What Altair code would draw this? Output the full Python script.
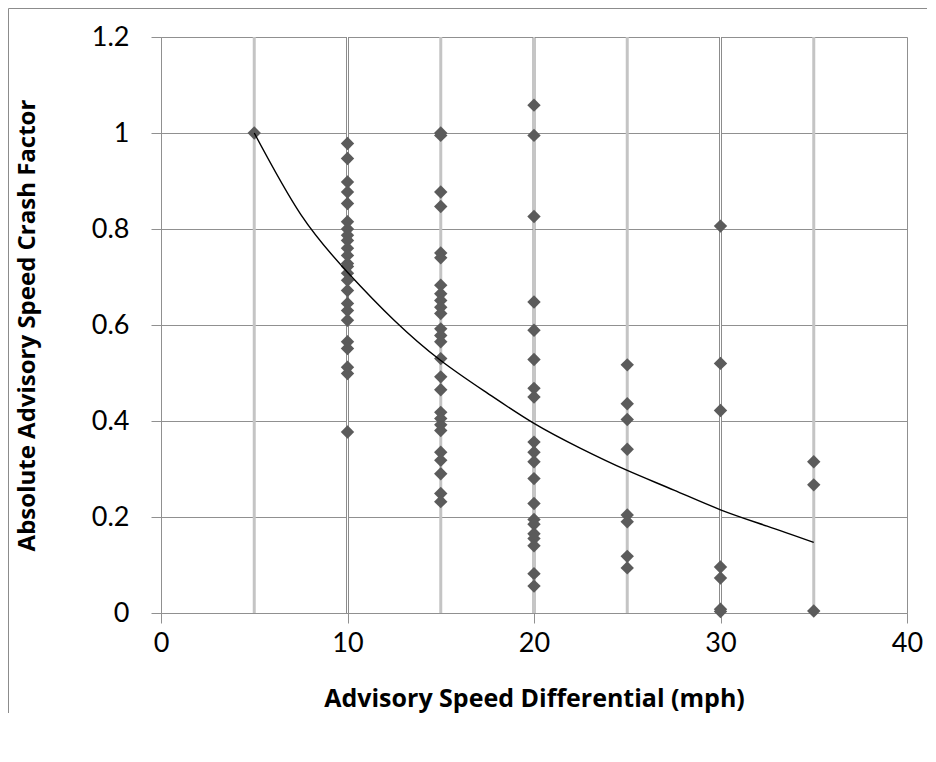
import altair as alt
import pandas as pd

# ---- data ----
x5 = [1.0]
x10 = [0.978, 0.947, 0.898, 0.877, 0.853, 0.815, 0.80, 0.787, 0.776, 0.76, 0.745,
       0.728, 0.722, 0.708, 0.693, 0.672, 0.645, 0.63, 0.61, 0.565, 0.551, 0.512,
       0.499, 0.377]
x15 = [1.0, 0.995, 0.877, 0.847, 0.75, 0.74, 0.683, 0.665, 0.651, 0.637, 0.624,
       0.592, 0.578, 0.565, 0.53, 0.492, 0.465, 0.418, 0.405, 0.392, 0.38, 0.335,
       0.318, 0.29, 0.249, 0.232]
x20 = [1.058, 0.995, 0.826, 0.648, 0.589, 0.528, 0.468, 0.45, 0.356, 0.335, 0.315,
       0.28, 0.228, 0.195, 0.185, 0.165, 0.155, 0.14, 0.082, 0.056]
x25 = [0.517, 0.436, 0.403, 0.341, 0.204, 0.19, 0.118, 0.094]
x30 = [0.806, 0.52, 0.422, 0.096, 0.073, 0.008, 0.003]
x35 = [0.315, 0.267, 0.004]

trend_x = [5, 7.5, 10, 12.5, 15, 17.5, 20, 22.5, 25, 27.5, 30, 32.5, 35]
trend_y = [1.0, 0.83, 0.71, 0.61, 0.526, 0.458, 0.395, 0.343, 0.297, 0.256, 0.215, 0.181, 0.147]

light_rules = [5, 15, 25, 35]
dark_rules = [10, 20, 30]

x_ticks = [0, 10, 20, 30, 40]
y_ticks = [0, 0.2, 0.4, 0.6, 0.8, 1.0, 1.2]

rows = []
for xv, ys in [(5, x5), (10, x10), (15, x15), (20, x20), (25, x25), (30, x30), (35, x35)]:
    for yv in ys:
        rows.append({"x": xv, "y": yv})
pts = pd.DataFrame(rows)
trend = pd.DataFrame({"x": trend_x, "y": trend_y})
lr = pd.DataFrame({"x": light_rules, "y0": 0.0, "y1": 1.2})
dr = pd.DataFrame({"x": dark_rules, "y0": 0.0, "y1": 1.2})

FONT = "Lato"
TFONT = "Open Sans"
GRID = "#909090"

xscale = alt.Scale(domain=[0, 40], nice=False)
yscale = alt.Scale(domain=[0, 1.2], nice=False)

xaxis = alt.Axis(values=x_ticks, title="Advisory Speed Differential (mph)", grid=True,
                 gridColor=GRID, domainColor=GRID, tickColor=GRID, tickSize=10,
                 labelFontSize=27, labelFont=FONT, labelColor="black", labelPadding=7,
                 labelFlush=False,
                 titleFont=TFONT, titleFontSize=25, titleFontWeight="bold", titleColor="black",
                 titlePadding=30)
yaxis = alt.Axis(values=y_ticks, format="~g", title="Absolute Advisory Speed Crash Factor",
                 grid=True, gridColor=GRID, domainColor=GRID, tickColor=GRID, tickSize=10,
                 labelFontSize=27, labelFont=FONT, labelColor="black", labelPadding=22,
                 labelFlush=False,
                 titleFont=TFONT, titleFontSize=24, titleFontWeight="bold", titleColor="black",
                 titlePadding=52)

rules_light = alt.Chart(lr).mark_rule(color="#c4c4c4", strokeWidth=3).encode(
    x=alt.X("x:Q", scale=xscale, axis=xaxis), y=alt.Y("y0:Q", scale=yscale, axis=yaxis), y2="y1:Q")
rules_dark = alt.Chart(dr).mark_rule(color="#8c8c8c", strokeWidth=3).encode(
    x=alt.X("x:Q", scale=xscale), y=alt.Y("y0:Q", scale=yscale), y2="y1:Q")
rules_white = alt.Chart(dr).mark_rule(color="white", strokeWidth=1).encode(
    x=alt.X("x:Q", scale=xscale), y=alt.Y("y0:Q", scale=yscale), y2="y1:Q")

points = alt.Chart(pts).mark_point(shape="diamond", filled=True, size=180,
                                   color="#5b5b5b", opacity=1).encode(
    x=alt.X("x:Q", scale=xscale), y=alt.Y("y:Q", scale=yscale))

line = alt.Chart(trend).mark_line(color="black", strokeWidth=1.4, interpolate="natural").encode(
    x=alt.X("x:Q", scale=xscale), y=alt.Y("y:Q", scale=yscale))

border_top = alt.Chart(pd.DataFrame({"a": [0]})).mark_rule(color="#8c8c8c", strokeWidth=1).encode(
    x=alt.value(-152.5), x2=alt.value(800), y=alt.value(-28.5))
border_left = alt.Chart(pd.DataFrame({"a": [0]})).mark_rule(color="#8c8c8c", strokeWidth=1).encode(
    x=alt.value(-152.5), y=alt.value(-28.5), y2=alt.value(740))

chart = alt.layer(border_top, border_left, rules_light, rules_dark, rules_white, points, line).properties(
    width=746, height=576,
    autosize=alt.AutoSizeParams(type="none"),
    padding={"left": 153, "top": 29, "right": 20, "bottom": 100},
).configure_view(stroke=None).configure(background="white")

chart.save("out.html", embed_options={"renderer": "svg", "actions": False})
